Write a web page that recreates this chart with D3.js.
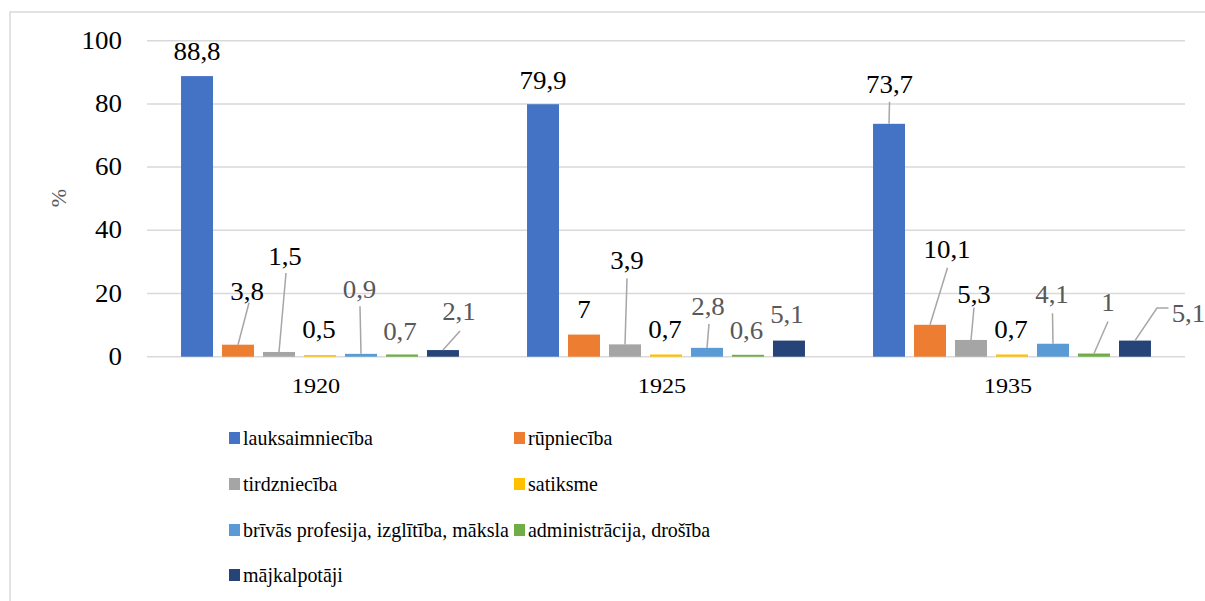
<!DOCTYPE html>
<html>
<head>
<meta charset="utf-8">
<script src="https://cdn.jsdelivr.net/npm/d3@7"></script>
<style>
  body { margin: 0; background: #fff; }
</style>
</head>
<body>
<div id="chart"></div>
<script>
// data
const years = ["1920", "1925", "1935"];
const seriesNames = [
    "lauksaimniecība",
    "rūpniecība",
    "tirdzniecība",
    "satiksme",
    "brīvās profesija, izglītība, māksla",
    "administrācija, drošība",
    "mājkalpotāji"
];
const lauksaimnieciba = [88.8, 79.9, 73.7];
const rupnieciba = [3.8, 7, 10.1];
const tirdznieciba = [1.5, 3.9, 5.3];
const satiksme = [0.5, 0.7, 0.7];
const brivasProfesijas = [0.9, 2.8, 4.1];
const administracija = [0.7, 0.6, 1];
const majkalpotaji = [2.1, 5.1, 5.1];
const yTicks = [0, 20, 40, 60, 80, 100];

const seriesValues = [lauksaimnieciba, rupnieciba, tirdznieciba, satiksme,
    brivasProfesijas, administracija, majkalpotaji];
const colors = ["#4472C4", "#ED7D31", "#A5A5A5", "#FFC000", "#5B9BD5", "#70AD47", "#264478"];
const labelColors = ["#000", "#000", "#000", "#000", "#595959", "#595959", "#595959"];

// manual label placement (Excel style): [dx, dy] of text baseline centre from bar top centre,
// leader = start of leader line relative to that baseline point (none = no leader)
const labelPos = [
    [{d: [0, 16]}, {d: [0, 15.5]}, {d: [0.5, 31], leader: [0, 9]}],
    [{d: [9, 45], leader: [2, 3]}, {d: [0, 17]}, {d: [17, 66.5], leader: [0.5, 9.5]}],
    [{d: [6, 87], leader: [1, 8]}, {d: [2, 75], leader: [0, 9]}, {d: [3, 36.5], leader: [0, 4]}],
    [{d: [-1, 17]}, {d: [-1, 16]}, {d: [-1, 16]}],
    [{d: [-1.5, 55.5], leader: [0.5, 8]}, {d: [1, 33], leader: [1, 9]}, {d: [-1, 41], leader: [0.5, 10.5]}],
    [{d: [-2, 14.5]}, {d: [-1.5, 16]}, {d: [14, 42.5], leader: [0, 10.5]}],
    [{d: [16, 30], leader: [1, 11]}, {d: [-2, 17.5]}, {d: [53.5, 19], leader: [-20, -13.5], elbow: [-31.5, -13.5]}]
];

const W = 1205, H = 601;
const STRETCH = 1.1; // source text is a bit wider than the font

const svg = d3.select("#chart").append("svg")
    .attr("width", W)
    .attr("height", H)
    .attr("font-family", "'Liberation Serif', 'DejaVu Serif', serif")
    .style("display", "block");

let place = (x, y) => `translate(${x},${y}) scale(${STRETCH},1)`;

// outer chart border
svg.append("rect")
    .attr("x", 10).attr("y", 12)
    .attr("width", W + 20).attr("height", H + 20)
    .attr("fill", "none")
    .attr("stroke", "#d9d9d9")
    .attr("stroke-width", 1.5);

const plot = {left: 147, right: 1185, top: 40.7, bottom: 356.7};

const y = d3.scaleLinear()
    .domain([0, 100])
    .range([plot.bottom, plot.top]);

const x0 = d3.scaleBand()
    .domain(years)
    .range([plot.left, plot.right])
    .padding(0);

const x1 = d3.scaleBand()
    .domain(d3.range(seriesNames.length))
    .range([0, x0.bandwidth()])
    .paddingInner(0.22)
    .paddingOuter(0.83);

// gridlines
svg.append("g")
    .selectAll("line")
    .data(yTicks)
    .join("line")
        .attr("x1", plot.left)
        .attr("x2", plot.right)
        .attr("y1", d => y(d))
        .attr("y2", d => y(d))
        .attr("stroke", "#d9d9d9")
        .attr("stroke-width", 1.5);

// y tick labels
svg.append("g")
    .selectAll("text")
    .data(yTicks)
    .join("text")
        .attr("transform", d => place(122, y(d) + 8))
        .attr("text-anchor", "end")
        .attr("font-size", 24.5)
        .attr("fill", "#000")
        .text(d => d);

// y axis title
svg.append("text")
    .attr("transform", "translate(66,198) rotate(-90)")
    .attr("text-anchor", "middle")
    .attr("font-size", 22)
    .attr("fill", "#595959")
    .text("%");

// x tick labels
svg.append("g")
    .selectAll("text")
    .data(years)
    .join("text")
        .attr("transform", d => place(x0(d) + x0.bandwidth() / 2 - 4, 393))
        .attr("text-anchor", "middle")
        .attr("font-size", 22)
        .attr("fill", "#000")
        .text(d => d);

// flatten bars
const bars = [];
seriesValues.forEach((vals, s) => {
    vals.forEach((v, i) => {
        bars.push({s: s, year: years[i], i: i, value: v});
    });
});

const barX = d => x0(d.year) + x1(d.s);
const barCx = d => barX(d) + x1.bandwidth() / 2;

svg.append("g")
    .selectAll("rect")
    .data(bars)
    .join("rect")
        .attr("x", barX)
        .attr("y", d => y(d.value))
        .attr("width", x1.bandwidth())
        .attr("height", d => y(0) - y(d.value))
        .attr("fill", d => colors[d.s]);

// leader lines
const leaders = bars.filter(d => labelPos[d.s][d.i].leader);
svg.append("g")
    .selectAll("path")
    .data(leaders)
    .join("path")
        .attr("fill", "none")
        .attr("stroke", "#a6a6a6")
        .attr("stroke-width", 1.5)
        .attr("d", d => {
            let p = labelPos[d.s][d.i];
            let lx = barCx(d) + p.d[0], ly = y(d.value) - p.d[1];
            let path = d3.path();
            path.moveTo(lx + p.leader[0], ly + p.leader[1]);
            if (p.elbow) path.lineTo(lx + p.elbow[0], ly + p.elbow[1]);
            path.lineTo(barCx(d), y(d.value));
            return path.toString();
        });

// data labels
svg.append("g")
    .selectAll("text")
    .data(bars)
    .join("text")
        .attr("transform", d => place(barCx(d) + labelPos[d.s][d.i].d[0], y(d.value) - labelPos[d.s][d.i].d[1]))
        .attr("text-anchor", "middle")
        .attr("font-size", 24.5)
        .attr("fill", d => labelColors[d.s])
        .text(d => String(d.value).replace(".", ","));

// legend
const legendCols = [229, 514];
const legendRows = [438, 484, 530, 575];
let legend = svg.append("g")
    .selectAll("g")
    .data(seriesNames)
    .join("g")
        .attr("transform", (d, i) => `translate(${legendCols[i % 2]},${legendRows[Math.floor(i / 2)]})`);

legend.append("rect")
    .attr("x", 0)
    .attr("y", -6)
    .attr("width", 11)
    .attr("height", 12)
    .attr("fill", (d, i) => colors[i]);

legend.append("text")
    .attr("transform", "translate(14,7) scale(1,1.06)")
    .attr("font-size", 20)
    .attr("fill", "#000")
    .text(d => d);
</script>
</body>
</html>
